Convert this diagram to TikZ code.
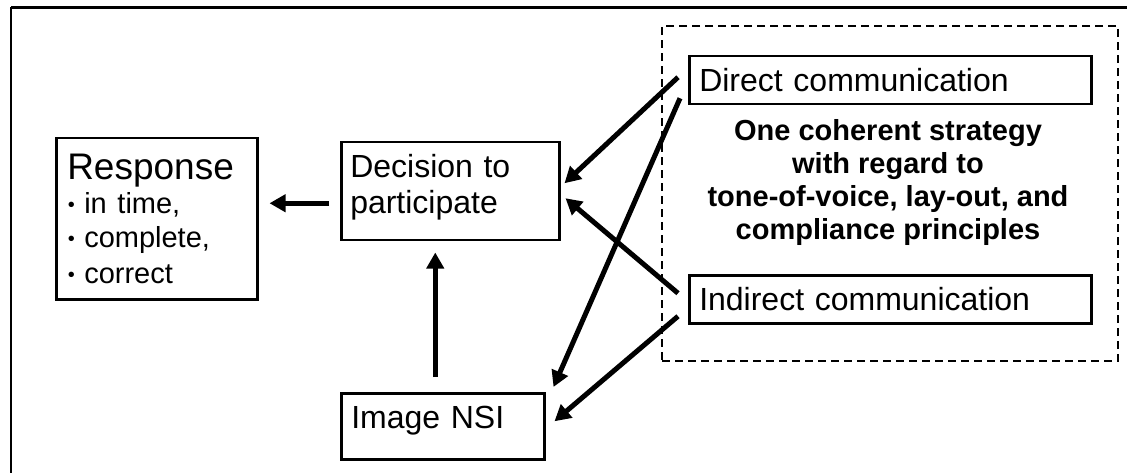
\documentclass[tikz,border=0pt]{standalone}
\usepackage{fontspec}
\setmainfont{Liberation Sans}
\usetikzlibrary{arrows.meta}
\newcommand{\bul}{\makebox[17pt][l]{\hspace{0.5pt}\raisebox{2pt}{\fontsize{20}{20}\selectfont •}}}
\tikzset{
  box/.style={draw=black, line width=2.5pt, anchor=north west, inner ysep=0pt, align=left,
    font=\fontsize{32}{36}\selectfont},
  arr/.style={line width=5pt, -{Triangle[length=16pt,width=17pt]}},
  grp/.style={draw=black, line width=2.3pt, dash pattern=on 8pt off 5pt, anchor=north west, inner sep=0pt},
  note/.style={align=center, font=\bfseries\fontsize{29}{33}\selectfont}
}
\begin{document}
\begin{tikzpicture}[x=1pt,y=-1pt]
\useasboundingbox (0,0) rectangle (1127,473);
% outer frame
\coordinate (fbl) at (11,473);
\coordinate (ftl) at (11,7.5);
\coordinate (ftr) at (1127,7.5);
\draw[line width=1.8pt] (fbl) -- (ftl);
\draw[line width=2.6pt] (ftl) -- (ftr);
% group box
\node[grp, minimum width=456pt, minimum height=335pt] (grp) at (661,25) {};
% boxes
\node[box, inner xsep=11pt, text width=179pt, text height=41pt, text depth=120pt] (resp) at (55,137)
  {{\fontsize{37}{40}\selectfont Response}\\
   \fontsize{29}{34}\selectfont\bul in time,\\
   \bul complete,\\
   \bul correct};
\node[box, inner xsep=9pt, text width=200pt, text height=35pt, text depth=63pt] (dec) at (340,141)
  {Decision to\\participate};
\node[box, inner xsep=10pt, text width=183pt, text height=35pt, text depth=31pt] (img) at (340,392)
  {Image NSI};
\node[box, inner xsep=10pt, text width=382pt, text height=35pt, text depth=13pt] (dir) at (688,55)
  {Direct communication};
\node[box, inner xsep=10pt, text width=382pt, text height=35pt, text depth=13pt] (ind) at (688,274)
  {Indirect communication};
\node[note] (strat) at (888,183) {One coherent strategy\\with regard to\\tone-of-voice, lay-out, and\\compliance principles};
% arrows
\draw[arr] ([xshift=-11pt,yshift=-12pt]dec.west) -- ([xshift=11pt,yshift=15.5pt]resp.east);
\draw[arr] ([xshift=-7.5pt,yshift=15pt]img.north) -- ([xshift=-15pt,yshift=-11pt]dec.south);
\draw[arr] ([xshift=-10pt,yshift=3pt]dir.west) -- ([xshift=4pt,yshift=8pt]dec.east);
\draw[arr] ([xshift=-8pt,yshift=-18pt]dir.west) -- ([xshift=8pt,yshift=5pt]img.north east);
\draw[arr] ([xshift=-10pt,yshift=6pt]ind.west) -- ([xshift=5pt,yshift=-7pt]dec.east);
\draw[arr] ([xshift=-10pt,yshift=-17pt]ind.west) -- ([xshift=9pt,yshift=5pt]img.east);
\end{tikzpicture}
\end{document}
